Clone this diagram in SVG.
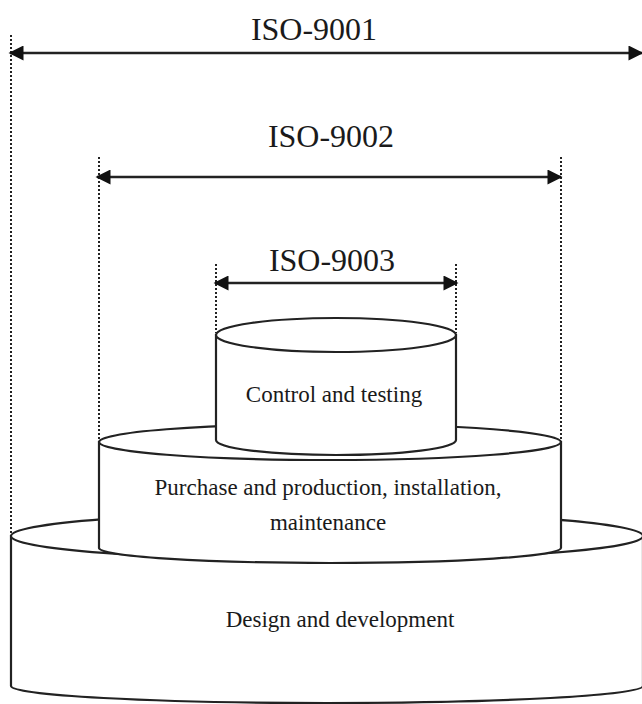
<svg xmlns="http://www.w3.org/2000/svg" width="642" height="704" viewBox="0 0 642 704">
<defs>
<marker id="ah" viewBox="0 0 10 10" refX="9" refY="5" markerWidth="18" markerHeight="15" markerUnits="userSpaceOnUse" orient="auto-start-reverse">
<path d="M0,0 L10,5 L0,10 Z" fill="#111"/>
</marker>
<style>
.lbl{font-family:"Liberation Serif","Times New Roman",serif;fill:#1a1a1a;text-anchor:middle}
.iso{font-size:32px}
.txt{font-size:23px}
.dot{stroke:#222;stroke-width:2;stroke-dasharray:2 2;fill:none}
.arr{stroke:#222;stroke-width:2.5;fill:none}
.cyl{fill:#fff;stroke:#222;stroke-width:2.2}
</style>
</defs>
<rect width="642" height="704" fill="#fff"/>
<g id="guides">
<line class="dot" x1="11" y1="35" x2="11" y2="535"/>
<line class="dot" x1="99" y1="157" x2="99" y2="440"/>
<line class="dot" x1="561" y1="157" x2="561" y2="440"/>
<line class="dot" x1="216" y1="264" x2="216" y2="333"/>
<line class="dot" x1="456" y1="264" x2="456" y2="333"/>
</g>
<g id="cyl-bottom">
<path class="cyl" d="M11,536 L11,686 A316,17 0 0 0 643,686 L643,536 Z"/>
<ellipse class="cyl" cx="327" cy="536" rx="316" ry="24"/>
<text class="lbl txt" x="340" y="627">Design and development</text>
</g>
<g id="cyl-middle">
<path class="cyl" d="M99,442 L99,548 A231,15 0 0 0 561,548 L561,442 Z"/>
<ellipse class="cyl" cx="330" cy="442" rx="231" ry="18"/>
<text class="lbl txt" x="328" y="495">Purchase and production, installation,</text>
<text class="lbl txt" x="328" y="530">maintenance</text>
</g>
<g id="cyl-top">
<path class="cyl" d="M216,335 L216,440 A120,15 0 0 0 456,440 L456,335 Z"/>
<ellipse class="cyl" cx="336" cy="335" rx="120" ry="17"/>
<text class="lbl txt" x="334" y="402">Control and testing</text>
</g>
<g id="connectors">
<line class="arr" x1="10" y1="53" x2="642" y2="53" marker-start="url(#ah)" marker-end="url(#ah)"/>
<line class="arr" x1="97" y1="177" x2="561" y2="177" marker-start="url(#ah)" marker-end="url(#ah)"/>
<line class="arr" x1="215" y1="283" x2="457" y2="283" marker-start="url(#ah)" marker-end="url(#ah)"/>
</g>
<g id="labels">
<text class="lbl iso" x="314" y="40">ISO-9001</text>
<text class="lbl iso" x="331" y="147">ISO-9002</text>
<text class="lbl iso" x="332" y="271">ISO-9003</text>
</g>
</svg>
